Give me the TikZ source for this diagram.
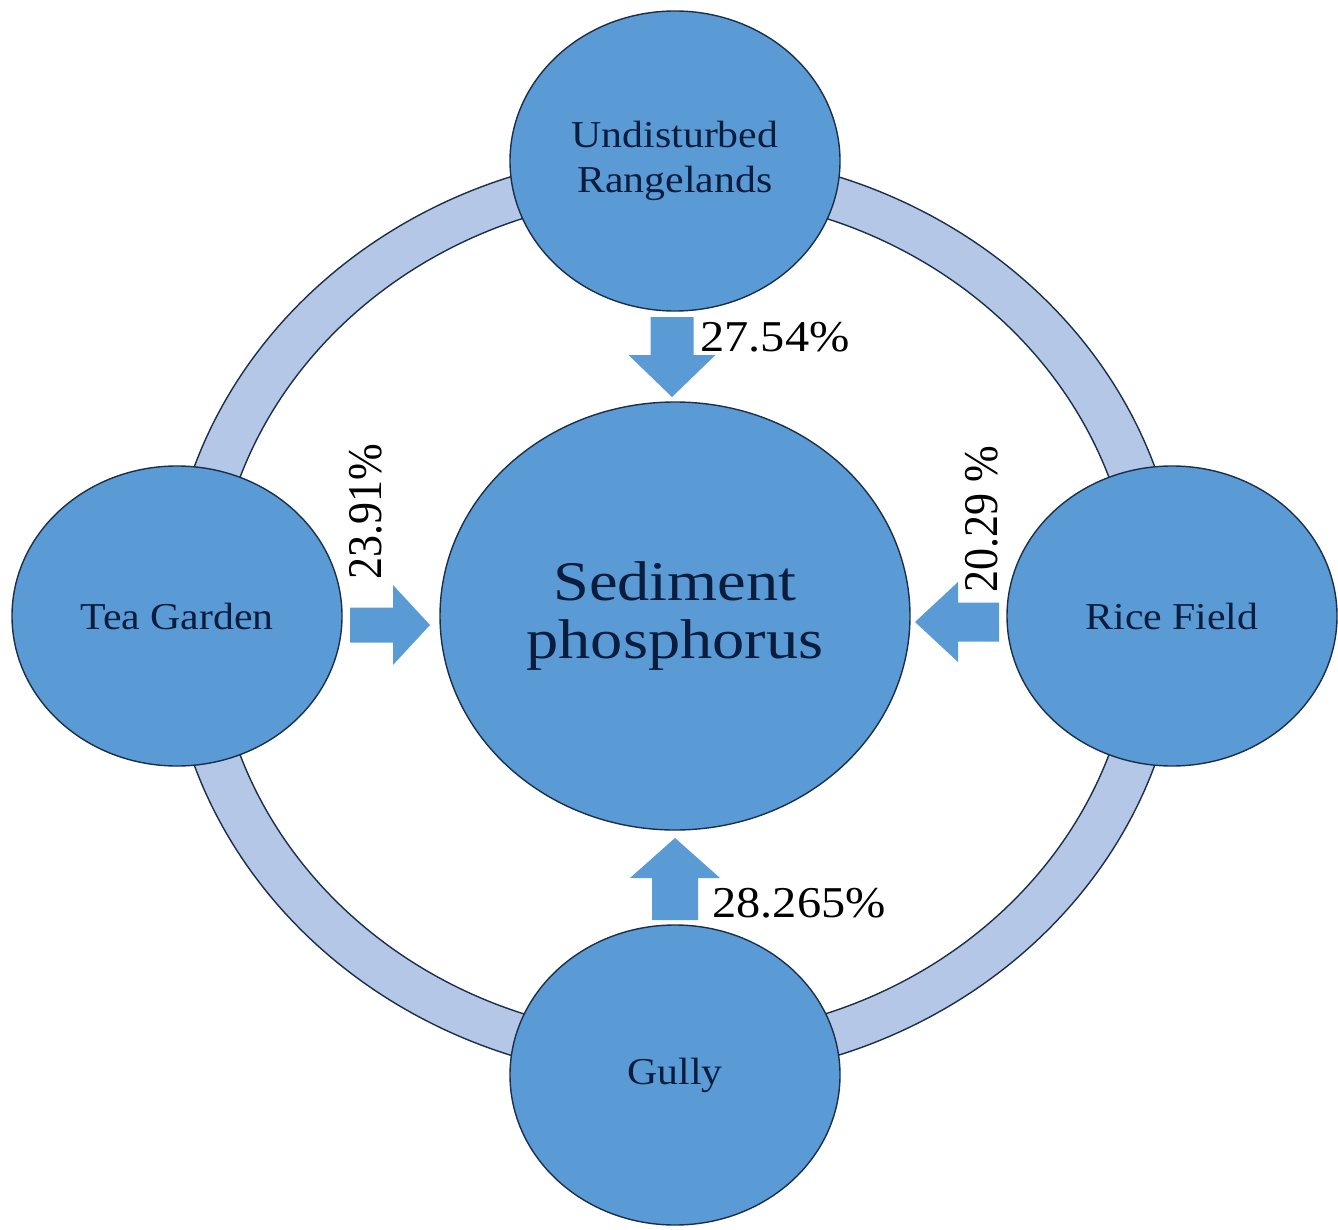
\documentclass[tikz,border=0pt]{standalone}
\usepackage{fontspec}
\setmainfont{Liberation Serif}[FakeStretch=1.1]
\newfontfamily\plainserif{Liberation Serif}
\newfontfamily\widerserif{Liberation Serif}[FakeStretch=1.15]
\usetikzlibrary{shapes.geometric}

\definecolor{poolblue}{HTML}{5B9BD5}
\definecolor{ringblue}{HTML}{B4C7E7}
\definecolor{edgenavy}{HTML}{1B2F4A}
\definecolor{textnavy}{HTML}{0A1D3F}

% block arrow: tail point, direction, length, head length, shaft half width, head half width
\newcommand\flowarrow[6]{%
  \fill[arrowbody, shift={#1}, rotate=#2]
    (0,-#5) -- ({#3-#4},-#5) -- ({#3-#4},-#6) -- (#3,0)
    -- ({#3-#4},#6) -- ({#3-#4},#5) -- (0,#5) -- cycle;}

\begin{document}
\begin{tikzpicture}[x=0.5pt,y=-0.5pt,
  pool/.style={ellipse, draw=edgenavy, line width=0.7pt, fill=poolblue,
    text=textnavy, inner sep=0pt, align=center,
    font=\fontsize{19pt}{22.5pt}\selectfont,
    minimum width=165pt, minimum height=150pt},
  sink/.style={pool, font=\widerserif\fontsize{28pt}{29pt}\selectfont,
    minimum width=235pt, minimum height=214pt},
  ring/.style={draw=edgenavy, line width=0.7pt, fill=ringblue, even odd rule},
  arrowbody/.style={fill=poolblue},
  pct/.style={inner sep=0pt, text=black, font=\fontsize{22pt}{24pt}\selectfont},
  pctup/.style={pct, rotate=90, font=\plainserif\fontsize{22pt}{24pt}\selectfont}]

\fill[white] (0,0) rectangle (1338,1230);
\useasboundingbox (0,0) rectangle (1338,1230);

% connecting ring behind the source pools
\draw[ring] (674.5,616) ellipse [x radius=507, y radius=464]
            (674.5,616) ellipse [x radius=460, y radius=421];

% pools
\node[sink] (sed) at (675,616) {Sediment\\phosphorus};
\node[pool] (range) at (675,161) {Undisturbed\\Rangelands};
\node[pool] (tea) at (177,616) {Tea Garden};
\node[pool] (rice) at (1172,616) {Rice Field};
\node[pool] (gully) at (675,1075) {Gully};

% arrow tails next to each source pool
\coordinate (trange) at (672,317);
\coordinate (ttea) at (350,625);
\coordinate (trice) at (999,622);
\coordinate (tgully) at (675,920);

\flowarrow{(trange)}{-90}{80}{42}{21.5}{43.5}
\flowarrow{(ttea)}{0}{80}{37}{17.5}{40}
\flowarrow{(trice)}{180}{84}{43}{19.5}{40}
\flowarrow{(tgully)}{90}{82}{40}{23}{45}

% shares
\node[pct, anchor=base west] (prange) at (700,351) {27.54\%};
\node[pct, anchor=base west] (pgully) at (712,917) {28.265\%};
\node[pctup, anchor=base west] (ptea) at (381,580) {\scalebox{1}[1.1]{23.91\%}};
\node[pctup, anchor=base west] (price) at (997,593) {\scalebox{1}[1.1]{20.29 \%}};
\end{tikzpicture}
\end{document}
